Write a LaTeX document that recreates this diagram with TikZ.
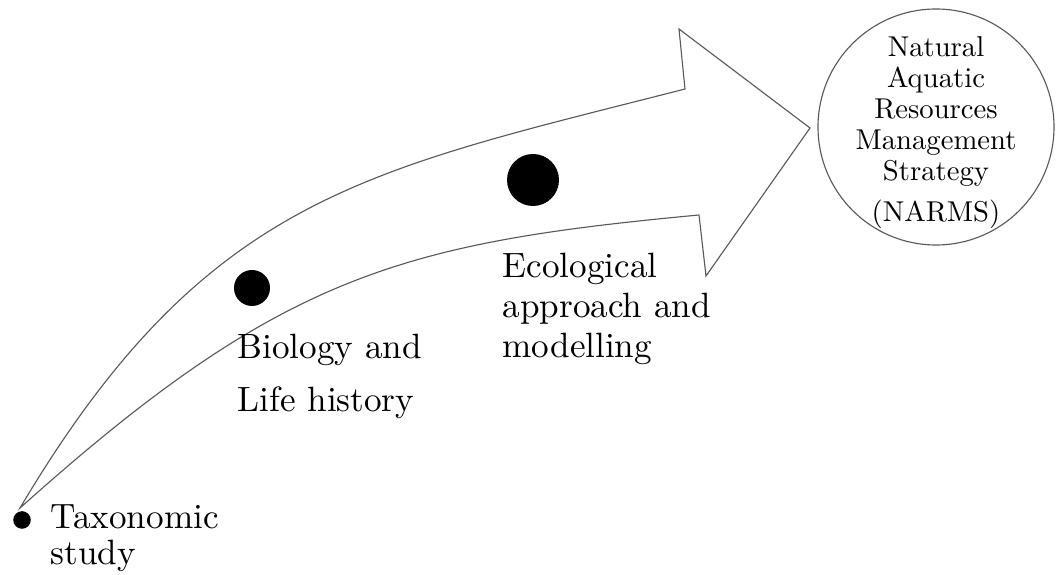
\documentclass[tikz,border=0pt]{standalone}
\usepackage{tikz}
\usetikzlibrary{arrows.meta,calc,positioning}

\tikzset{
  stagelabel/.style={font=\fontsize{10}{11.4}\selectfont,align=left,inner sep=0pt,
    anchor=base west,scale=2.5,transform shape},
  goalcircle/.style={circle,draw=black!65,line width=0.8pt,minimum size=5.9cm,inner sep=0pt},
  goaltext/.style={align=center,inner sep=0pt,font=\fontsize{10}{10.8}\selectfont,
    scale=2.04,transform shape}
}

\begin{document}
\begin{tikzpicture}[scale=1.0,>=Stealth]
  \useasboundingbox (0,0) rectangle (26.4,14.375);
  % curved block arrow
  \draw[black!65,line width=0.8pt,line join=miter]
    (0.5,1.675) .. controls (5.15,9.5) and (9.125,10.1) .. (17.125,12.15)
    -- (16.975,13.65) -- (20.25,11.175) -- (17.65,7.475) -- (17.475,9.0)
    .. controls (10.0,8.3) and (7.0,7.5) .. (0.5,1.675) -- cycle;
  % stage dots
  \fill (0.55,1.375) circle (0.22);
  \fill (6.3,7.175) circle (0.45);
  \fill (13.325,9.875) circle (0.65);
  % labels (anchored at the baseline of the last line)
  \node[stagelabel] (taxo) at (1.25,0.25) {Taxonomic\\[-0.9pt]study};
  \node[stagelabel] (bio) at (5.925,4.075) {Biology and\\[3.9pt]Life history};
  \node[stagelabel] (eco) at (12.55,5.425) {Ecological\\approach and\\modelling};
  \node[goalcircle] (narms) at (23.4,11.2) {};
  \node[goaltext] (narmstext) at ([yshift=-0.15cm]narms.center)
    {Natural\\Aquatic\\Resources\\Management\\Strategy\\[3.5pt](NARMS)};
\end{tikzpicture}
\end{document}
